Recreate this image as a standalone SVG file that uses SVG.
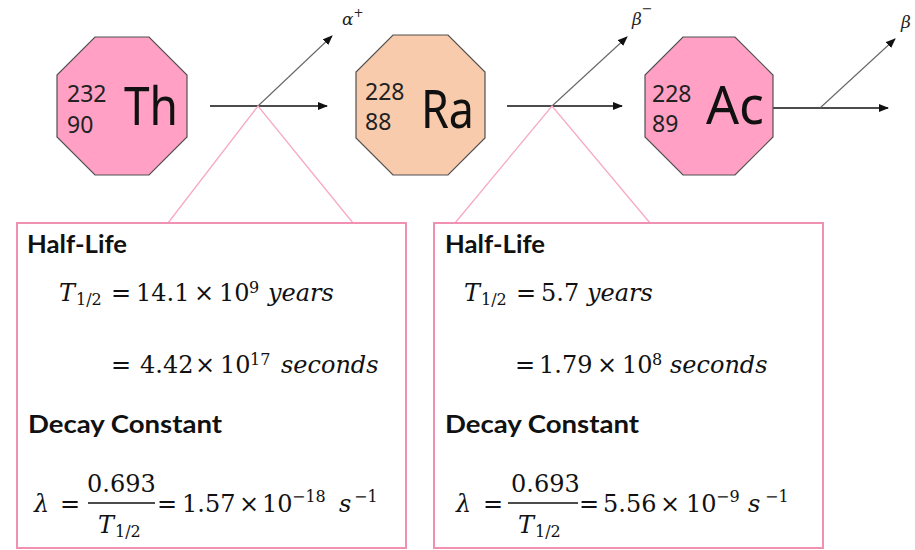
<svg xmlns="http://www.w3.org/2000/svg" width="915" height="550" viewBox="0 0 915 550">
  <style>
    .oct { stroke: #505050; stroke-width: 1.2; }
    .pink { fill: #FFA0C4; }
    .peach { fill: #F8CBAD; }
    .num { font-family: "Noto Sans", "Open Sans", sans-serif; font-size: 23px; fill: #222; }
    .sym { font-family: "Noto Sans", "Open Sans", sans-serif; font-size: 53px; fill: #111; }
    .lbl { font-family: "DejaVu Serif", serif; font-style: italic; font-size: 17px; fill: #222; }
    .head { font-family: Lato, "Noto Sans", sans-serif; font-weight: bold; font-size: 25px; fill: #111; }
    .m { font-family: "DejaVu Serif", serif; font-size: 24px; fill: #111; }
    .it { font-style: italic; }
    .sm { font-size: 16px; }
    .main { stroke: #111; stroke-width: 1.3; fill: none; }
    .side { stroke: #666; stroke-width: 1.1; fill: none; }
    .tie { stroke: #F7A9C6; stroke-width: 1.3; fill: none; }
    .box { stroke: #F090B2; stroke-width: 2; fill: #fff; }
    .bar { stroke: #111; stroke-width: 1.5; }
  </style>
  <defs>
    <marker id="ah" markerWidth="10" markerHeight="8" refX="9" refY="4" orient="auto" markerUnits="userSpaceOnUse">
      <path d="M0,0 L10,4 L0,8 z" fill="#111"/>
    </marker>
  </defs>

  <!-- connectors: decay arrows, emitted-particle branches, callout ties -->
  <g id="connectors">
    <line class="main" x1="210" y1="106" x2="327" y2="106" marker-end="url(#ah)"/>
    <line class="side" x1="258" y1="106" x2="332" y2="36" marker-end="url(#ah)"/>
    <line class="main" x1="507" y1="106" x2="622" y2="106" marker-end="url(#ah)"/>
    <line class="side" x1="552" y1="106" x2="627" y2="37" marker-end="url(#ah)"/>
    <line class="main" x1="773" y1="108" x2="888" y2="108" marker-end="url(#ah)"/>
    <line class="side" x1="820" y1="108" x2="895" y2="39" marker-end="url(#ah)"/>
    <polyline class="tie" points="168,223 258,106 353,223"/>
    <polyline class="tie" points="455,223 552,106 650,223"/>
  </g>

  <!-- emitted particle labels -->
  <text class="lbl" x="342" y="25">α<tspan font-size="12" dy="-8">+</tspan></text>
  <text class="lbl" x="632" y="25">β<tspan font-size="13" dy="-12">−</tspan></text>
  <text class="lbl" x="901" y="28">β</text>

  <!-- nuclides -->
  <g id="th232">
    <polygon class="oct pink" points="95,37 149,37 187,75 187,137 149,175 95,175 57,137 57,75"/>
    <text class="num" x="67" y="102">232</text>
    <text class="num" x="67" y="133">90</text>
    <text class="sym" x="124" y="125" textLength="54" lengthAdjust="spacingAndGlyphs">Th</text>
  </g>
  <g id="ra228">
    <polygon class="oct peach" points="393,35 448,35 485,72 485,138 448,175 393,175 356,138 356,72"/>
    <text class="num" x="365" y="100">228</text>
    <text class="num" x="365" y="130">88</text>
    <text class="sym" x="421" y="128" textLength="53" lengthAdjust="spacingAndGlyphs">Ra</text>
  </g>
  <g id="ac228">
    <polygon class="oct pink" points="683,37 735,37 773,75 773,137 735,175 683,175 645,137 645,75"/>
    <text class="num" x="652" y="102">228</text>
    <text class="num" x="652" y="132">89</text>
    <text class="sym" x="706" y="124" textLength="58" lengthAdjust="spacingAndGlyphs">Ac</text>
  </g>

  <!-- Th-232 half-life panel -->
  <g id="th-panel">
    <rect class="box" x="17" y="223" width="389" height="325"/>
    <text class="head" x="27" y="253" textLength="100" lengthAdjust="spacingAndGlyphs">Half-Life</text>
    <text class="m" y="301"><tspan class="it" x="59">T</tspan><tspan class="sm" x="76" y="305">1/2</tspan><tspan x="111" y="301">=</tspan><tspan x="136">14.1</tspan><tspan x="194">×</tspan><tspan x="219">10</tspan><tspan class="sm" x="249" y="293">9</tspan><tspan class="it" x="268" y="301">years</tspan></text>
    <text class="m" y="373"><tspan x="111">=</tspan><tspan x="140">4.42</tspan><tspan x="195">×</tspan><tspan x="220">10</tspan><tspan class="sm" x="250" y="365">17</tspan><tspan class="it" x="281" y="373">seconds</tspan></text>
    <text class="head" x="28" y="433" textLength="194" lengthAdjust="spacingAndGlyphs">Decay Constant</text>
    <text class="m" y="512"><tspan class="it" x="34">λ</tspan><tspan x="60">=</tspan></text>
    <text class="m" x="87" y="492">0.693</text>
    <line class="bar" x1="88" y1="503" x2="155" y2="503"/>
    <text class="m" y="533"><tspan class="it" x="98">T</tspan><tspan class="sm" x="115" y="537">1/2</tspan></text>
    <text class="m" y="512"><tspan x="157">=</tspan><tspan x="182">1.57</tspan><tspan x="239">×</tspan><tspan x="262">10</tspan><tspan class="sm" x="292" y="502">−18</tspan><tspan class="it" x="339" y="512">s</tspan><tspan class="sm" x="354" y="502">−1</tspan></text>
  </g>

  <!-- Ra-228 half-life panel -->
  <g id="ra-panel">
    <rect class="box" x="434" y="223" width="389" height="325"/>
    <text class="head" x="445" y="253" textLength="100" lengthAdjust="spacingAndGlyphs">Half-Life</text>
    <text class="m" y="301"><tspan class="it" x="464">T</tspan><tspan class="sm" x="481" y="305">1/2</tspan><tspan x="516" y="301">=</tspan><tspan x="541">5.7</tspan><tspan class="it" x="587">years</tspan></text>
    <text class="m" y="373"><tspan x="515">=</tspan><tspan x="539">1.79</tspan><tspan x="597">×</tspan><tspan x="622">10</tspan><tspan class="sm" x="652" y="365">8</tspan><tspan class="it" x="670" y="373">seconds</tspan></text>
    <text class="head" x="445" y="433" textLength="194" lengthAdjust="spacingAndGlyphs">Decay Constant</text>
    <text class="m" y="512"><tspan class="it" x="456">λ</tspan><tspan x="483">=</tspan></text>
    <text class="m" x="511" y="492">0.693</text>
    <line class="bar" x1="508" y1="503" x2="578" y2="503"/>
    <text class="m" y="533"><tspan class="it" x="518">T</tspan><tspan class="sm" x="535" y="537">1/2</tspan></text>
    <text class="m" y="512"><tspan x="579">=</tspan><tspan x="603">5.56</tspan><tspan x="660">×</tspan><tspan x="686">10</tspan><tspan class="sm" x="716" y="502">−9</tspan><tspan class="it" x="748" y="512">s</tspan><tspan class="sm" x="765" y="502">−1</tspan></text>
  </g>
</svg>
